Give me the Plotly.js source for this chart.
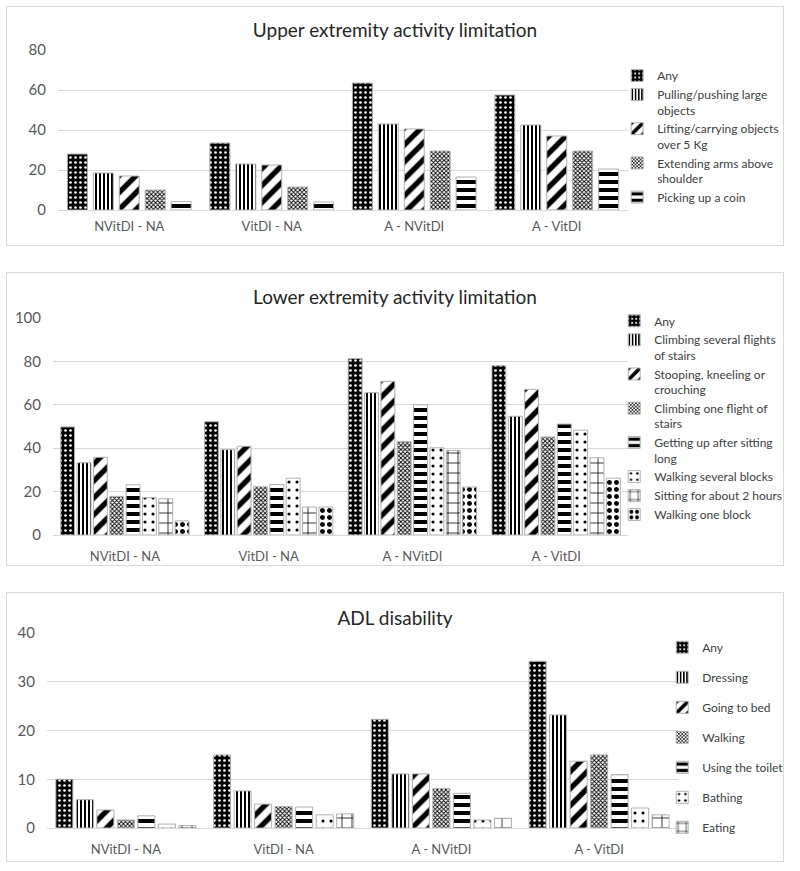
<!DOCTYPE html>
<html>
<head>
<meta charset="utf-8">
<script src="https://cdn.plot.ly/plotly-3.0.1.min.js"></script>
<style>
  html, body { margin: 0; padding: 0; background: #fff; }
  body { width: 800px; height: 871px; position: relative; overflow: hidden; }
  .panel { position: absolute; left: 6px; width: 778px; border: 1px solid #d9d9d9; box-sizing: border-box; }
  #p1 { top: 6px; height: 240px; }
  #p2 { top: 272px; height: 294px; }
  #p3 { top: 592px; height: 270px; }
</style>
</head>
<body>
<div id="p1" class="panel"></div>
<div id="p2" class="panel"></div>
<div id="p3" class="panel"></div>
<script>
// ---------- categories ----------
const groups = ['NVitDI - NA', 'VitDI - NA', 'A - NVitDI', 'A - VitDI'];

// ---------- Upper extremity activity limitation ----------
const upperNames = ['Any', 'Pulling/pushing large<br>objects', 'Lifting/carrying objects<br>over 5 Kg', 'Extending arms above<br>shoulder', 'Picking up a coin'];
const upperAny     = [28, 33.5, 63.5, 57.5];
const upperPull    = [18.5, 23, 43, 42.5];
const upperLift    = [17, 22.5, 40.5, 37];
const upperExtend  = [10, 11.5, 29.5, 29.5];
const upperCoin    = [4.2, 4, 16.5, 20.5];
const upperTicks   = [0, 20, 40, 60, 80];

// ---------- Lower extremity activity limitation ----------
const lowerNames = ['Any', 'Climbing several flights<br>of stairs', 'Stooping, kneeling or<br>crouching', 'Climbing one flight of<br>stairs', 'Getting up after sitting<br>long', 'Walking several blocks', 'Sitting for about 2 hours', 'Walking one block'];
const lowerAny          = [49.8, 52.2, 81.3, 78];
const lowerClimbSeveral = [33.3, 39.3, 65.6, 54.7];
const lowerStoop        = [35.8, 40.9, 70.8, 67.1];
const lowerClimbOne     = [17.8, 22.2, 43, 45.2];
const lowerGetUp        = [23.2, 23.3, 60, 51.1];
const lowerWalkSeveral  = [17.2, 26.2, 40.2, 48.3];
const lowerSitting      = [16.7, 12.9, 39, 35.6];
const lowerWalkOne      = [6.5, 12.9, 22.1, 26.2];
const lowerTicks        = [0, 20, 40, 60, 80, 100];

// ---------- ADL disability ----------
const adlNames = ['Any', 'Dressing', 'Going to bed', 'Walking', 'Using the toilet', 'Bathing', 'Eating'];
const adlAny      = [10, 15, 22.3, 34.2];
const adlDressing = [5.8, 7.6, 11.1, 23.2];
const adlBed      = [3.7, 4.9, 11.1, 13.7];
const adlWalking  = [1.65, 4.4, 8.1, 15];
const adlToilet   = [2.5, 4.3, 7.1, 10.9];
const adlBathing  = [0.8, 2.7, 1.65, 4.1];
const adlEating   = [0.5, 2.9, 2.0, 2.7];
const adlTicks    = [0, 10, 20, 30, 40];

// ---------- pattern styles ----------
const P = {
  any:      {shape: '.', bgcolor: '#000', fgcolor: '#fff', size: 5, solidity: 0.22, fillmode: 'replace'},
  vert:     {shape: '|', bgcolor: '#fff', fgcolor: '#000', size: 4, solidity: 0.5, fillmode: 'replace'},
  diag:     {shape: '/', bgcolor: '#fff', fgcolor: '#000', size: 12, solidity: 0.45, fillmode: 'replace'},
  check:    {shape: 'x', bgcolor: '#fff', fgcolor: '#000', size: 3, solidity: 0.5, fillmode: 'replace'},
  horiz:    {shape: '-', bgcolor: '#fff', fgcolor: '#000', size: 8, solidity: 0.5, fillmode: 'replace'},
  dotsSm:   {shape: '.', bgcolor: '#fff', fgcolor: '#000', size: 8, solidity: 0.12, fillmode: 'replace'},
  brick:    {shape: '+', bgcolor: '#fff', fgcolor: '#000', size: 10, solidity: 0.15, fillmode: 'replace'},
  dotsBig:  {shape: '.', bgcolor: '#fff', fgcolor: '#000', size: 7, solidity: 0.4, fillmode: 'replace'}
};

const FONT = 'Lato, "Open Sans", sans-serif';

function makeTraces(names, values, pats) {
  return names.map((n, i) => ({
    type: 'bar',
    name: n,
    x: groups,
    y: values[i],
    legendgroup: 'g' + i,
    marker: { color: '#fff', pattern: pats[i], line: {color: '#b0b0b0', width: 1} },
    hoverinfo: 'x+y+name'
  }));
}

function makeLayout(title, ticks, m, legend, bargroupgap) {
  return {
    width: 776, height: m.h,
    margin: {l: m.l, r: m.r, t: m.t, b: m.b, pad: 0, autoexpand: false},
    paper_bgcolor: '#fff', plot_bgcolor: '#fff',
    title: {text: title, x: 0.5, xref: 'container', xanchor: 'center', y: m.ty, yref: 'container', yanchor: 'middle',
            font: {family: FONT, size: 19, color: '#262626'}},
    barmode: 'group', bargap: 0.09, bargroupgap: bargroupgap,
    xaxis: {type: 'category', showgrid: false, zeroline: false, showline: true, linecolor: '#d9d9d9', linewidth: 1,
            ticks: '', tickfont: {family: FONT, size: 13, color: '#595959'}, ticklabelstandoff: m.xs, fixedrange: true},
    yaxis: {range: [ticks[0], ticks[ticks.length - 1]], tickvals: ticks, ticktext: ticks.map(String),
            showgrid: true, gridcolor: '#d9d9d9', gridwidth: 1, zeroline: false, showline: false,
            ticks: '', tickfont: {family: FONT, size: 15, color: '#595959'}, ticklabelstandoff: 11, fixedrange: true},
    showlegend: true,
    legend: Object.assign({font: {family: FONT, size: 12, color: '#404040'}, bgcolor: 'rgba(0,0,0,0)',
            xanchor: 'left', yanchor: 'top', valign: 'top', traceorder: 'grouped', itemwidth: 30, maxheight: 600,
            itemclick: false, itemdoubleclick: false}, legend),
    hovermode: 'closest'
  };
}

const cfg = {displayModeBar: false};

Plotly.newPlot('p1',
  makeTraces(upperNames, [upperAny, upperPull, upperLift, upperExtend, upperCoin], [P.any, P.vert, P.diag, P.check, P.horiz]),
  makeLayout('Upper extremity activity limitation', upperTicks, {h: 238, l: 51, r: 155, t: 43, b: 35, ty: 0.9, xs: 4},
             {x: 0.981, y: 0.93, tracegroupgap: 0}, 0.23),
  cfg);

Plotly.newPlot('p2',
  makeTraces(lowerNames, [lowerAny, lowerClimbSeveral, lowerStoop, lowerClimbOne, lowerGetUp, lowerWalkSeveral, lowerSitting, lowerWalkOne],
             [P.any, P.vert, P.diag, P.check, P.horiz, P.dotsSm, P.brick, P.dotsBig]),
  makeLayout('Lower extremity activity limitation', lowerTicks, {h: 292, l: 46, r: 155, t: 45, b: 30, ty: 0.915, xs: 9},
             {x: 0.976, y: 1.053, tracegroupgap: 0}, 0.15),
  cfg);

Plotly.newPlot('p3',
  makeTraces(adlNames, [adlAny, adlDressing, adlBed, adlWalking, adlToilet, adlBathing, adlEating],
             [P.any, P.vert, P.diag, P.check, P.horiz, P.dotsSm, P.brick]),
  makeLayout('ADL disability', adlTicks, {h: 268, l: 40, r: 105, t: 40, b: 33, ty: 0.905, xs: 9},
             {x: 0.975, y: 1.0, tracegroupgap: 11}, 0.17),
  cfg);
</script>
</body>
</html>
